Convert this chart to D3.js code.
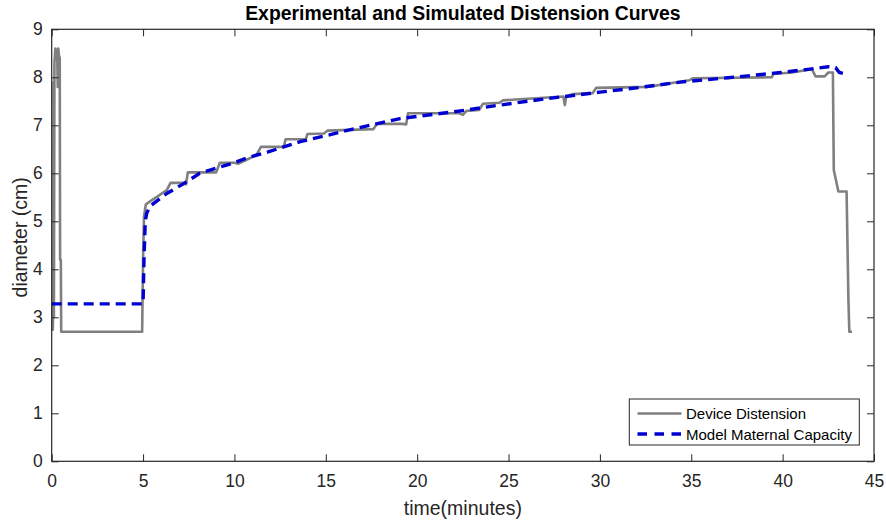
<!DOCTYPE html>
<html>
<head>
<meta charset="utf-8">
<script src="https://cdn.jsdelivr.net/npm/d3@7"></script>
<style>
  html, body { margin: 0; padding: 0; background: #ffffff; }
  svg { display: block; font-family: "Liberation Sans", Arial, Helvetica, sans-serif; }
</style>
</head>
<body>
<svg id="chart" width="886" height="521"></svg>
<script>
// Measured device diameter over time (minutes, cm)
const deviceTime = [
  0.02, 0.06, 0.09, 0.10, 0.12, 0.15, 0.20, 0.25, 0.30, 0.33, 0.36, 0.40, 0.44, 0.46, 0.50, 0.52,
  4.95, 5.00, 5.05, 5.15, 5.40, 5.80, 6.10, 6.30, 6.50, 7.20, 7.35, 7.45, 9.00, 9.20, 10.00, 10.20,
  11.20, 11.45, 12.70, 12.80, 13.90, 14.00, 14.90, 15.10, 17.60, 17.80, 19.20, 19.40,
  19.50, 22.30, 22.50, 22.70, 23.40, 23.60, 24.50, 24.70, 26.70, 28.00, 28.08, 28.15, 28.50, 29.60,
  29.80, 32.60, 34.90, 35.10, 39.40, 39.50, 40.50, 41.60, 41.80, 42.30, 42.50, 42.75, 42.80, 43.05,
  43.50, 43.60, 43.65, 43.80
];
const deviceDiameter = [
  2.72, 2.75, 3.40, 7.90, 3.00, 8.30, 8.60, 8.55, 8.50, 7.80, 8.60, 8.45, 8.40, 4.20, 4.20, 2.70,
  2.70, 4.20, 5.10, 5.35, 5.42, 5.52, 5.60, 5.65, 5.80, 5.80, 5.77, 6.02, 6.02, 6.22, 6.22, 6.20,
  6.38, 6.55, 6.55, 6.71, 6.71, 6.82, 6.83, 6.89, 6.92, 7.03, 7.03, 7.02,
  7.25, 7.25, 7.22, 7.30, 7.32, 7.45, 7.47, 7.52, 7.57, 7.60, 7.42, 7.60, 7.65, 7.67,
  7.78, 7.80, 7.94, 7.98, 8.00, 8.07, 8.10, 8.17, 8.02, 8.02, 8.10, 8.10, 6.07, 5.62,
  5.62, 3.36, 2.70, 2.70
];

// Simulated maternal capacity curve
const modelTime = [
  0, 5.00, 5.05, 5.12, 5.20, 5.40, 6.30, 7.20, 8.10, 9.90, 10.85, 11.80, 13.60, 15.20, 16.00, 19.06,
  22.00, 24.50, 27.00, 30.00, 32.00, 34.40, 37.00, 39.90, 41.50, 42.50, 42.90, 43.10, 43.60
];
const modelDiameter = [
  3.28, 3.28, 4.20, 5.00, 5.17, 5.32, 5.58, 5.78, 6.00, 6.21, 6.34, 6.44, 6.66, 6.80, 6.88, 7.14,
  7.28, 7.42, 7.55, 7.69, 7.78, 7.90, 7.99, 8.10, 8.17, 8.22, 8.20, 8.10, 8.05
];

const xTicks = [0, 5, 10, 15, 20, 25, 30, 35, 40, 45];
const yTicks = [0, 1, 2, 3, 4, 5, 6, 7, 8, 9];

const seriesNames = ["Device Distension", "Model Maternal Capacity"];
const chartTitle = "Experimental and Simulated Distension Curves";
const xLabel = "time(minutes)";
const yLabel = "diameter (cm)";

// Layout
const plot = { left: 51.7, right: 874, top: 29.3, bottom: 461.3 };
const axisColor = "#262626";
const deviceColor = "#808080";
const modelColor = "#0000d2";

const svg = d3.select("#chart");

const x = d3.scaleLinear().domain([0, 45]).range([plot.left, plot.right]);
const y = d3.scaleLinear().domain([0, 9]).range([plot.bottom, plot.top]);

// Curves
const line = d3.line().x(d => x(d[0])).y(d => y(d[1]));
const deviceData = deviceTime.map((t, i) => [t, deviceDiameter[i]]);
const modelData = modelTime.map((t, i) => [t, modelDiameter[i]]);

svg.append("path")
  .datum(deviceData)
  .attr("d", line)
  .attr("fill", "none")
  .attr("stroke", deviceColor)
  .attr("stroke-width", 2.6)
  .attr("stroke-linejoin", "round");

svg.append("path")
  .datum(modelData)
  .attr("d", line)
  .attr("fill", "none")
  .attr("stroke", modelColor)
  .attr("stroke-width", 3.4)
  .attr("stroke-dasharray", "10,6");

// Axes with inward ticks on all four sides
const tickLen = 7;
function styleAxis(g) {
  g.selectAll(".domain").remove();
  g.selectAll(".tick line").attr("stroke", axisColor).attr("stroke-width", 1);
  g.selectAll(".tick text").attr("fill", axisColor)
    .style("font-size", "17.5px")
    .style("font-family", "'Liberation Sans', Arial, sans-serif");
}

svg.append("g")
  .attr("transform", `translate(0,${plot.bottom})`)
  .call(d3.axisBottom(x).tickValues(xTicks).tickSizeInner(-tickLen).tickSizeOuter(0).tickPadding(13.5))
  .call(styleAxis);

svg.append("g")
  .attr("transform", `translate(0,${plot.top})`)
  .call(d3.axisTop(x).tickValues(xTicks).tickSizeInner(-tickLen).tickSizeOuter(0).tickFormat(""))
  .call(styleAxis);

svg.append("g")
  .attr("transform", `translate(${plot.left},0)`)
  .call(d3.axisLeft(y).tickValues(yTicks).tickSizeInner(-tickLen).tickSizeOuter(0).tickPadding(9))
  .call(styleAxis);

svg.append("g")
  .attr("transform", `translate(${plot.right},0)`)
  .call(d3.axisRight(y).tickValues(yTicks).tickSizeInner(-tickLen).tickSizeOuter(0).tickFormat(""))
  .call(styleAxis);

// Frame
svg.append("rect")
  .attr("x", plot.left)
  .attr("y", plot.top)
  .attr("width", plot.right - plot.left)
  .attr("height", plot.bottom - plot.top)
  .attr("fill", "none")
  .attr("stroke", axisColor)
  .attr("stroke-width", 1.2);

// Title and axis labels
svg.append("text")
  .attr("x", (plot.left + plot.right) / 2)
  .attr("y", 20)
  .attr("text-anchor", "middle")
  .attr("fill", "#000")
  .style("font-size", "19.4px")
  .style("font-weight", "bold")
  .text(chartTitle);

svg.append("text")
  .attr("x", (plot.left + plot.right) / 2)
  .attr("y", 515)
  .attr("text-anchor", "middle")
  .attr("fill", axisColor)
  .style("font-size", "19.5px")
  .text(xLabel);

svg.append("text")
  .attr("transform", `translate(27,${(plot.top + plot.bottom) / 2 - 8}) rotate(-90)`)
  .attr("text-anchor", "middle")
  .attr("fill", axisColor)
  .style("font-size", "19.5px")
  .text(yLabel);

// Legend
const legend = svg.append("g");
legend.append("rect")
  .attr("x", 629.3).attr("y", 399)
  .attr("width", 230).attr("height", 46)
  .attr("fill", "#fff")
  .attr("stroke", axisColor)
  .attr("stroke-width", 1);

const legendRows = [
  { name: seriesNames[0], color: deviceColor, width: 2.6, dash: null, y: 413.5 },
  { name: seriesNames[1], color: modelColor, width: 3.4, dash: "9.5,7.5", y: 434 }
];
legendRows.forEach(r => {
  legend.append("line")
    .attr("x1", 637.5).attr("x2", 681.5)
    .attr("y1", r.y).attr("y2", r.y)
    .attr("stroke", r.color)
    .attr("stroke-width", r.width)
    .attr("stroke-dasharray", r.dash);
  legend.append("text")
    .attr("x", 686)
    .attr("y", r.y + 5.6)
    .attr("fill", "#000")
    .style("font-size", "15px")
    .text(r.name);
});
</script>
</body>
</html>
